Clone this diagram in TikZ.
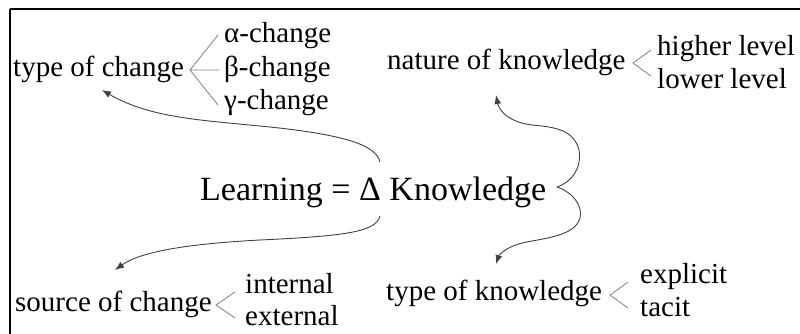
\documentclass[tikz,border=0pt]{standalone}
\usepackage{fontspec}
\setmainfont{Liberation Serif}
\newfontfamily\tnr{Liberation Serif}
\usetikzlibrary{arrows.meta}
\begin{document}
\begin{tikzpicture}[x=1pt,y=-1pt,
  lbl/.style={anchor=base west,inner sep=0pt,font=\tnr\fontsize{29}{34}\selectfont},
  big/.style={anchor=base west,inner sep=0pt,font=\tnr\fontsize{34}{40}\selectfont},
  fork/.style={draw=black!50,line width=0.8pt},
  curve/.style={draw=black!75,line width=0.9pt},
  arr/.style={curve,-{Latex[length=9pt,width=7pt]}}]
\useasboundingbox (0,0) rectangle (800,333);
\draw[line width=2.6pt] (10,9) -- (820,9);
\draw[line width=2.6pt] (10,9) -- (10,350);
% type of change
\node[lbl] (toc) at (13,76) {type of change};
\node[lbl] (ca) at (224,42) {α-change};
\node[lbl] (cb) at (224,76) {β-change};
\node[lbl] (cg) at (224,109) {γ-change};
\coordinate (t1) at (190,70);
\draw[fork] (218,35) -- (t1) -- (219,70);
\draw[fork] (t1) -- (218,105);
% nature of knowledge
\node[lbl] (nok) at (387,69) {nature of knowledge};
\node[lbl] (hl) at (657,55) {higher level};
\node[lbl] (ll) at (657,88) {lower level};
\coordinate (t2) at (633,63);
\draw[fork] (651,50) -- (t2) -- (651,76);
% center
\node[big] (learn) at (200,200) {Learning = Δ Knowledge};
% source of change
\node[lbl] (soc) at (15,311) {source of change};
\node[lbl] (in) at (245,293) {internal};
\node[lbl] (ex) at (245,325) {external};
\coordinate (t3) at (216,305);
\draw[fork] (235,292) -- (t3) -- (235,318);
% type of knowledge
\node[lbl] (tok) at (386,300) {type of knowledge};
\node[lbl] (exp) at (640,283) {explicit};
\node[lbl] (tac) at (640,316) {tacit};
\coordinate (t4) at (610,295);
\draw[fork] (628,282) -- (t4) -- (628,308);
% connectors
\coordinate (s1) at (380,162);
\coordinate (s2) at (380,216);
\coordinate (br) at (557,187);
\coordinate (e1) at (102,90);
\coordinate (e2) at (115,270);
\coordinate (e3) at (496,95);
\coordinate (e4) at (496,264);
\draw[arr] (s1) .. controls (376,145) and (345,135) .. (270,127)
  .. controls (200,120) and (150,118) .. (e1);
\draw[arr] (s2) .. controls (376,232) and (345,236) .. (260,240)
  .. controls (185,244) and (140,252) .. (e2);
\draw[arr] (br) .. controls (572,182) and (582,168) .. (579,150)
  .. controls (574,130) and (555,127) .. (532,125)
  .. controls (508,122) and (499,110) .. (e3);
\draw[arr] (br) .. controls (572,192) and (583,205) .. (580,218)
  .. controls (575,236) and (545,238) .. (522,243)
  .. controls (506,247) and (499,255) .. (e4);
\end{tikzpicture}
\end{document}
